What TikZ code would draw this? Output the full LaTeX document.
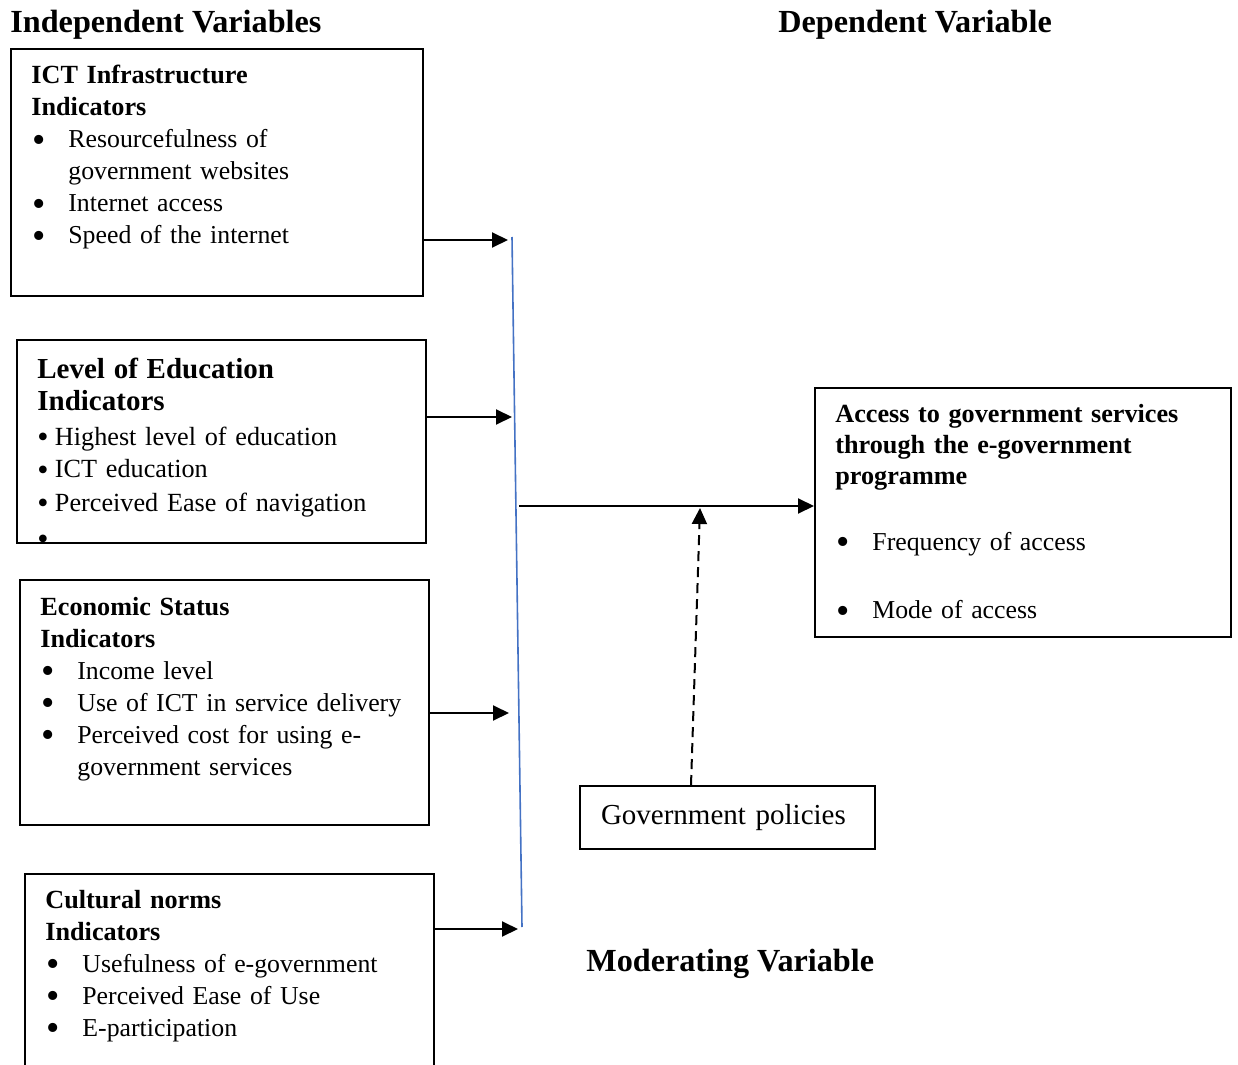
\documentclass[tikz,border=0pt]{standalone}
\usepackage{fontspec}
\setmainfont{Liberation Serif}
\usetikzlibrary{arrows.meta}
\definecolor{joinblue}{RGB}{68,114,196}
\newcommand{\bul}{\smash{\raisebox{-2.2pt}{\fontsize{19}{19}\selectfont\textbullet}}}
\newcommand{\sbul}{\smash{\raisebox{-1.2pt}{\fontsize{16}{16}\selectfont\textbullet}}}
\newcommand{\ttl}[1]{{\fontsize{13.1}{16}\selectfont\bfseries #1}}
\newcommand{\bitem}[1]{\makebox[18.5pt][l]{\hspace*{0.5pt}\bul}#1}
\newcommand{\bcont}[1]{\hspace*{18.5pt}#1}
\newcommand{\sitem}[1]{\makebox[8.8pt][l]{\sbul}#1}

\begin{document}
\begin{tikzpicture}[x=0.5pt,y=-0.5pt]
  \tikzset{
    frame/.style={draw=black, line width=1pt, inner sep=0pt, anchor=north west},
    txt/.style={anchor=base west, align=left, inner sep=0pt, text width=200pt,
                font=\fontsize{12.9}{16}\selectfont},
    head/.style={anchor=base west, inner sep=0pt, font=\fontsize{16.1}{19}\selectfont\bfseries},
    arr/.style={line width=1pt, -{Triangle[length=8pt,width=7.5pt]}},
    modarr/.style={arr, dash pattern=on 5pt off 3pt},
    joinline/.style={draw=joinblue, line width=0.8pt}
  }
  \useasboundingbox (0,0) rectangle (1238,1065);
  \clip (0,0) rectangle (1238,1065);

  % — headings —
  \node[head] (indep) at (10,33) {Independent Variables};
  \node[head] (dep) at (778,33) {Dependent Variable};
  \node[head] (mod) at (586,971) {Moderating Variable};

  % — independent variable boxes —
  \node[frame, minimum width=206pt, minimum height=123.5pt] (ict) at (10,48) {};
  \node[txt] (ictt) at (31,84) {%
    \ttl{ICT Infrastructure}\\
    \ttl{Indicators}\\
    \bitem{Resourcefulness of}\\
    \bcont{government websites}\\
    \bitem{Internet access}\\
    \bitem{Speed of the internet}};

  \node[frame, minimum width=204.5pt, minimum height=101.5pt] (edu) at (16,339) {};
  \begin{scope}
    % the last empty bullet is cut by the box
    \clip (edu.north west) rectangle (edu.south east);
    \node[txt, font=\fontsize{13.1}{16.5}\selectfont] (edut) at (37,378) {%
      {\fontsize{14.5}{16.5}\selectfont\bfseries Level of Education}\\
      {\fontsize{14.5}{16.5}\selectfont\bfseries Indicators}\\[0.5pt]
      \sitem{Highest level of education}\\
      \sitem{ICT education}\\
      \sitem{Perceived Ease of navigation}\\[1.5pt]
      \sitem{}};
  \end{scope}

  \node[frame, minimum width=204.5pt, minimum height=122.5pt] (eco) at (19,579) {};
  \node[txt] (ecot) at (40,615) {%
    \ttl{Economic Status}\\
    \ttl{Indicators}\\
    \bitem{Income level}\\
    \bitem{Use of ICT in service delivery}\\
    \bitem{Perceived cost for using e-}\\
    \bcont{government services}};

  \node[frame, minimum width=204.5pt, minimum height=130pt] (cul) at (24,873) {};
  \node[txt] (cult) at (45,908) {%
    \ttl{Cultural norms}\\
    \ttl{Indicators}\\
    \bitem{Usefulness of e-government}\\
    \bitem{Perceived Ease of Use}\\
    \bitem{E-participation}};

  % — dependent variable —
  \node[frame, minimum width=208pt, minimum height=124.5pt] (acc) at (814,387) {};
  \node[txt, font=\fontsize{12.9}{15.5}\selectfont] (acct) at (835,422) {%
    \ttl{Access to government services}\\
    \ttl{through the e-government}\\
    \ttl{programme}\\[17.5pt]
    \bitem{Frequency of access}\\[19pt]
    \bitem{Mode of access}};

  % — moderating variable —
  \node[frame, minimum height=31.5pt, text width=126.5pt, inner xsep=10.5pt,
        align=left, font=\fontsize{14.5}{17}\selectfont] (pol) at (579,785) {Government policies};

  % joining line
  \coordinate (jt) at (512,237);
  \coordinate (jb) at (522,927);
  \draw[joinline] (jt) -- (jb);

  % arrows into the joining line
  \coordinate (j1) at (508,240);
  \coordinate (j2) at (512,417);
  \coordinate (j3) at (509,713);
  \coordinate (j4) at (518,929);
  \draw[arr] (ict.east |- j1) -- (j1);
  \draw[arr] (edu.east |- j2) -- (j2);
  \draw[arr] (eco.east |- j3) -- (j3);
  \draw[arr] (cul.east |- j4) -- (j4);

  % main arrow and moderating arrow
  \coordinate (jm) at (519,506);
  \draw[arr] (jm) -- (acc.west |- jm);
  \coordinate (dm) at (700,508);
  \draw[modarr] ([xshift=56pt]pol.north west) -- (dm);
\end{tikzpicture}
\end{document}
